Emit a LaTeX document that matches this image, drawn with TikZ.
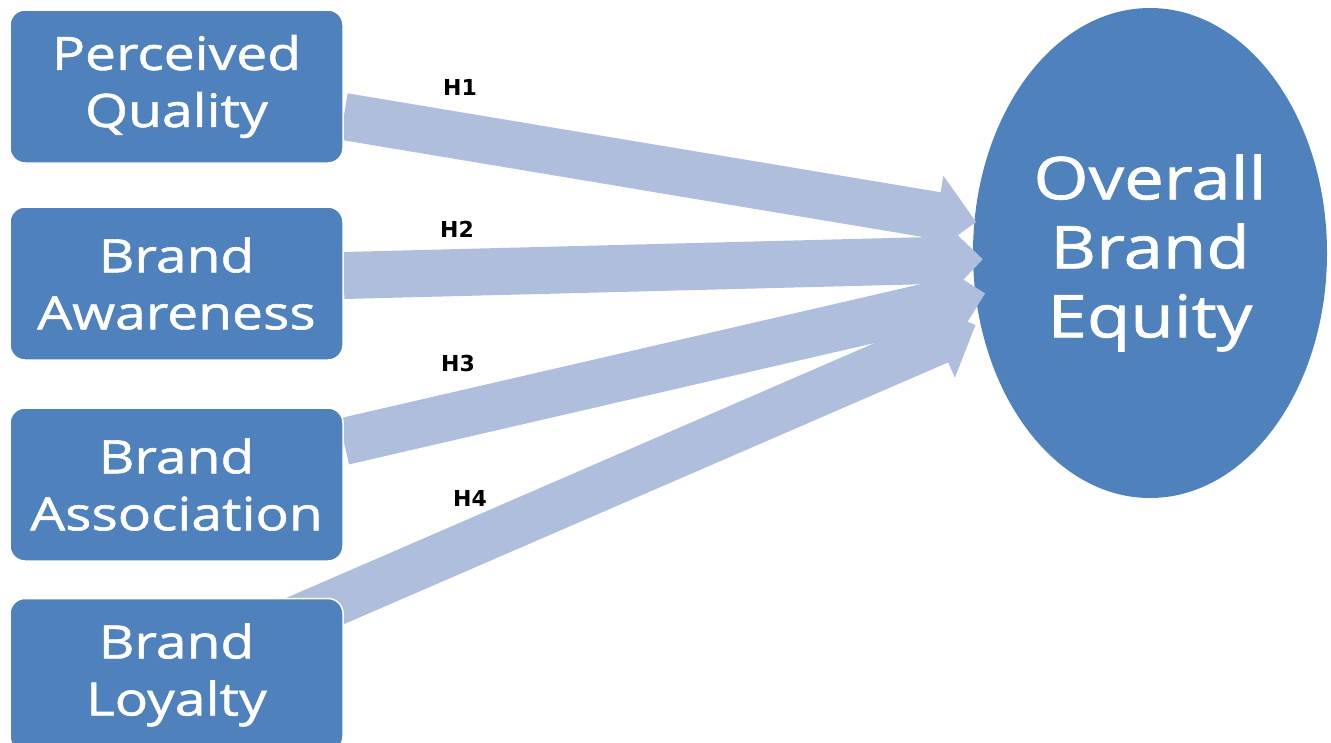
\documentclass[tikz,border=0pt]{standalone}
\usepackage{fontspec}
\setsansfont{Open Sans}[FakeStretch=1.2, FakeBold=1.2]
\newfontfamily\hypfont{DejaVu Sans}
\usetikzlibrary{shapes.geometric, arrows.meta, calc}

\definecolor{boxblue}{RGB}{79,129,189}
\definecolor{arrowblue}{RGB}{174,190,220}

\pgfdeclarelayer{bg}
\pgfdeclarelayer{arrowlayer}
\pgfsetlayers{bg,arrowlayer,main}

\tikzset{
  factor/.style={rectangle, rounded corners=15pt, minimum width=333pt, minimum height=153pt, fill=boxblue, draw=white, line width=1.5pt, text=white, align=center, font=\sffamily\fontsize{46}{57}\selectfont},
  outcome/.style={ellipse, minimum width=354pt, minimum height=490pt, fill=boxblue, text=white, align=center, font=\sffamily\fontsize{59}{69}\selectfont},
  hyparrow/.style={line width=47pt, color=arrowblue, -{Triangle[length=40pt, width=78pt]}},
  hyplabel/.style={font=\hypfont\bfseries\fontsize{22}{22}\selectfont, text=black}
}

\begin{document}
\begin{tikzpicture}
[every node/.style={inner sep=0pt}]
\useasboundingbox (0pt, 0pt) rectangle (1331pt, -742pt);
\begin{pgfonlayer}{bg}
\node (obe) [outcome] at (1150.0pt, -253.0pt) {Overall\\Brand\\Equity};
\end{pgfonlayer}
\node (pq) [factor] at (176.5pt, -86.5pt) {Perceived\\Quality};
\node (ba) [factor] at (176.5pt, -283.5pt) {Brand\\Awareness};
\node (bas) [factor] at (176.5pt, -484.5pt) {Brand\\Association};
\node (bl) [factor] at (176.5pt, -675.0pt) {Brand\\Loyalty};
\begin{pgfonlayer}{arrowlayer}
\draw [hyparrow] ($(pq.east)+(0pt,-30pt)$) to ($(obe.170)+(2pt,0pt)$);
\draw [hyparrow] ($(ba.east)+(0pt,8pt)$) to ($(obe.182)+(10pt,0pt)$);
\draw [hyparrow] ($(bas.east)+(0pt,43pt)$) to ($(obe.193)+(10pt,0pt)$);
\draw [hyparrow] ($(bl.north east)+(-58pt,-26pt)$) to ($(obe.203)+(-5pt,0pt)$);
\end{pgfonlayer}
\node (h1) [hyplabel] at (460pt, -87pt) {H1};
\node (h2) [hyplabel] at (457pt, -229pt) {H2};
\node (h3) [hyplabel] at (458pt, -363pt) {H3};
\node (h4) [hyplabel] at (470pt, -498pt) {H4};
\end{tikzpicture}
\end{document}
